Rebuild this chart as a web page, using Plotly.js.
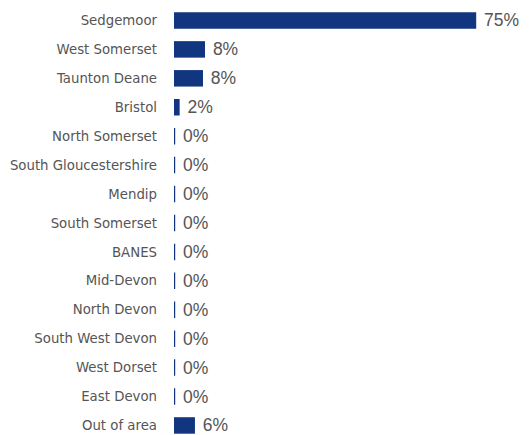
<!DOCTYPE html>
<html>
<head>
<meta charset="utf-8">
<script src="https://cdn.plot.ly/plotly-3.0.1.min.js"></script>
<style>html,body{margin:0;padding:0;background:#fff;}#chart{width:531px;height:435px;}</style>
</head>
<body>
<div id="chart"></div>
<script>
var categories = ["Sedgemoor","West Somerset","Taunton Deane","Bristol","North Somerset","South Gloucestershire","Mendip","South Somerset","BANES","Mid-Devon","North Devon","South West Devon","West Dorset","East Devon","Out of area"];
var values = [75, 7.7, 7.2, 1.4, 0.3, 0.3, 0.3, 0.3, 0.3, 0.3, 0.3, 0.3, 0.3, 0.3, 5.2];
var valueLabels = ["75%","8%","8%","2%","0%","0%","0%","0%","0%","0%","0%","0%","0%","0%","6%"];

var trace = {
  type: 'bar',
  orientation: 'h',
  y: categories,
  x: values,
  text: valueLabels.map(function(s){return '\u00A0' + s;}),
  textposition: 'outside',
  constraintext: 'none',
  cliponaxis: false,
  textfont: {family: 'Liberation Sans, Arial, sans-serif', size: 17.5, color: '#555555'},
  marker: {color: '#123580', line: {width: 0}},
  hoverinfo: 'none'
};

var layout = {
  width: 531, height: 435,
  margin: {l: 174, r: 0, t: 6, b: 0},
  paper_bgcolor: '#ffffff', plot_bgcolor: '#ffffff',
  bargap: 0.43,
  showlegend: false,
  xaxis: {range: [0, 88.6], visible: false, showgrid: false, zeroline: false, fixedrange: true},
  yaxis: {
    type: 'category',
    categoryorder: 'array', categoryarray: categories,
    range: [14.33, -0.5],
    showgrid: false, zeroline: false, showline: false, ticks: '',
    ticklabelstandoff: 16,
    tickfont: {family: 'DejaVu Sans, sans-serif', size: 13.3, color: '#555555'},
    fixedrange: true
  }
};

Plotly.newPlot('chart', [trace], layout, {displayModeBar: false, staticPlot: true});
</script>
</body>
</html>
